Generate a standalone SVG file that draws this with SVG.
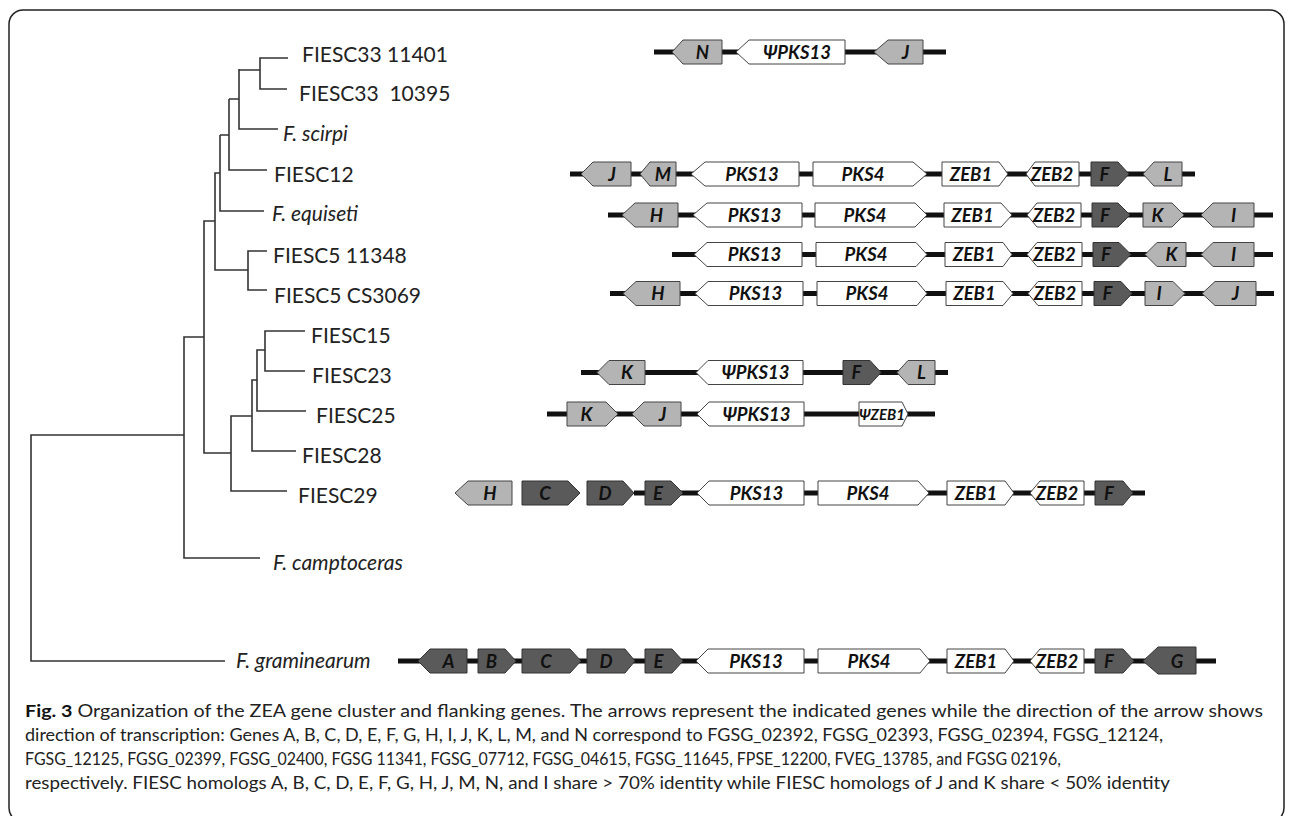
<svg xmlns="http://www.w3.org/2000/svg" width="1290" height="816" viewBox="0 0 1290 816">
<style>
.tx{font-family:Lato,"Liberation Sans","DejaVu Sans",sans-serif;font-size:21px;fill:#222}
.it{font-style:italic}
.bb{stroke:#111;stroke-width:5;fill:none}
.lt{fill:#b4b4b4;stroke:#444;stroke-width:1}
.dk{fill:#5a5a5a;stroke:#333;stroke-width:1}
.wt{fill:#fff;stroke:#444;stroke-width:1}
.gl{font-family:Lato,"DejaVu Sans","Liberation Sans",sans-serif;font-size:18.5px;font-weight:bold;font-style:italic;fill:#111;text-anchor:middle}
.tree{stroke:#333;stroke-width:1.6;fill:none}
.cap{font-family:Lato,"Liberation Sans",sans-serif;font-size:17px;fill:#222}
</style>
<rect x="9" y="10" width="1275" height="812" rx="14" fill="none" stroke="#222" stroke-width="1.5"/>

<g id="connectors" class="tree">
<path d="M288,58 H260 V89 H287 M260,70 H239 M278,129 H239 V69 M239,99 H229 M267,170 H229 V99 M229,135 H220 M264,211 H220 V135 M220,173 H215 V270 H248 M267,251 H248 V290 H267 M215,221 H204 V453 H231 M287,491 H231 V416 H252 M296,451 H252 V380 H257 M306,411 H257 V350 H265 M305,331 H265 V371 H305 M204,337 H184 V558 H260 M184,435 H31 V661 H225"/>
</g>

<g id="fiesc33-11401">
<text class="tx" x="302" y="62">FIESC33 11401</text>
<path class="bb" d="M654,52 H946"/>
<polygon class="lt" points="672,52 683,40 722,40 722,64 683,64"/><text class="gl" x="702.5" y="58.5">N</text>
<polygon class="wt" points="736,52 749,40 845,40 845,64 749,64"/><text class="gl" x="797" y="58.5">ΨPKS13</text>
<polygon class="lt" points="874,52 888,40 923,40 923,64 888,64"/><text class="gl" x="905.5" y="58.5">J</text>
</g>

<g id="fiesc33-10395">
<text class="tx" x="299" y="101" style="white-space:pre">FIESC33  10395</text>
</g>

<g id="f-scirpi">
<text class="tx it" x="283" y="141">F. scirpi</text>
</g>

<g id="fiesc12">
<text class="tx" x="274" y="182">FIESC12</text>
<path class="bb" d="M570,174 H1195"/>
<polygon class="lt" points="581,174 593,162 631,162 631,186 593,186"/><text class="gl" x="612" y="180.5">J</text>
<polygon class="lt" points="640,174 650,162 676,162 676,186 650,186"/><text class="gl" x="663" y="180.5">M</text>
<polygon class="wt" points="691,174 705,162 799,162 799,186 705,186"/><text class="gl" x="752" y="180.5">PKS13</text>
<polygon class="wt" points="813,162 913,162 927,174 913,186 813,186"/><text class="gl" x="863" y="180.5">PKS4</text>
<polygon class="wt" points="942,162 999,162 1008,174 999,186 942,186"/><text class="gl" x="971" y="180.5">ZEB1</text>
<polygon class="wt" points="1026,174 1035,162 1079,162 1079,186 1035,186"/><text class="gl" x="1052" y="180.5">ZEB2</text>
<polygon class="dk" points="1091,162 1118,162 1129,174 1118,186 1091,186"/><text class="gl" x="1104.5" y="180.5">F</text>
<polygon class="lt" points="1143,174 1154,162 1182,162 1182,186 1154,186"/><text class="gl" x="1168" y="180.5">L</text>
</g>

<g id="f-equiseti">
<text class="tx it" x="272" y="221">F. equiseti</text>
<path class="bb" d="M608,215 H1273"/>
<polygon class="lt" points="622,215 635,203 678,203 678,227 635,227"/><text class="gl" x="656.5" y="221.5">H</text>
<polygon class="wt" points="693,215 707,203 802,203 802,227 707,227"/><text class="gl" x="754.5" y="221.5">PKS13</text>
<polygon class="wt" points="815,203 915,203 927,215 915,227 815,227"/><text class="gl" x="865" y="221.5">PKS4</text>
<polygon class="wt" points="944,203 1001,203 1012,215 1001,227 944,227"/><text class="gl" x="972.5" y="221.5">ZEB1</text>
<polygon class="wt" points="1027,215 1037,203 1081,203 1081,227 1037,227"/><text class="gl" x="1054" y="221.5">ZEB2</text>
<polygon class="dk" points="1092,203 1118,203 1130,215 1118,227 1092,227"/><text class="gl" x="1105" y="221.5">F</text>
<polygon class="lt" points="1143,203 1172,203 1184,215 1172,227 1143,227"/><text class="gl" x="1157.5" y="221.5">K</text>
<polygon class="lt" points="1201,215 1213,203 1254,203 1254,227 1213,227"/><text class="gl" x="1233.5" y="221.5">I</text>
</g>

<g id="fiesc5-11348">
<text class="tx" x="273" y="263">FIESC5 11348</text>
<path class="bb" d="M672,254.5 H1273"/>
<polygon class="wt" points="694,254.5 707,242.5 802,242.5 802,266.5 707,266.5"/><text class="gl" x="754.5" y="261">PKS13</text>
<polygon class="wt" points="816,242.5 916,242.5 927,254.5 916,266.5 816,266.5"/><text class="gl" x="866" y="261">PKS4</text>
<polygon class="wt" points="945,242.5 1003,242.5 1012,254.5 1003,266.5 945,266.5"/><text class="gl" x="974" y="261">ZEB1</text>
<polygon class="wt" points="1027,254.5 1037,242.5 1082,242.5 1082,266.5 1037,266.5"/><text class="gl" x="1054.5" y="261">ZEB2</text>
<polygon class="dk" points="1093,242.5 1119,242.5 1131,254.5 1119,266.5 1093,266.5"/><text class="gl" x="1106" y="261">F</text>
<polygon class="lt" points="1145,254.5 1157,242.5 1186,242.5 1186,266.5 1157,266.5"/><text class="gl" x="1171.5" y="261">K</text>
<polygon class="lt" points="1201,254.5 1213,242.5 1254,242.5 1254,266.5 1213,266.5"/><text class="gl" x="1233.5" y="261">I</text>
</g>

<g id="fiesc5-cs3069">
<text class="tx" x="274" y="303">FIESC5 CS3069</text>
<path class="bb" d="M610,293.5 H1274"/>
<polygon class="lt" points="623,293.5 636,281.5 680,281.5 680,305.5 636,305.5"/><text class="gl" x="658" y="300">H</text>
<polygon class="wt" points="695,293.5 708,281.5 803,281.5 803,305.5 708,305.5"/><text class="gl" x="755.5" y="300">PKS13</text>
<polygon class="wt" points="817,281.5 917,281.5 927,293.5 917,305.5 817,305.5"/><text class="gl" x="867" y="300">PKS4</text>
<polygon class="wt" points="946,281.5 1003,281.5 1013,293.5 1003,305.5 946,305.5"/><text class="gl" x="974.5" y="300">ZEB1</text>
<polygon class="wt" points="1028,293.5 1038,281.5 1082,281.5 1082,305.5 1038,305.5"/><text class="gl" x="1055" y="300">ZEB2</text>
<polygon class="dk" points="1094,281.5 1121,281.5 1132,293.5 1121,305.5 1094,305.5"/><text class="gl" x="1107.5" y="300">F</text>
<polygon class="lt" points="1145,281.5 1173,281.5 1185,293.5 1173,305.5 1145,305.5"/><text class="gl" x="1159" y="300">I</text>
<polygon class="lt" points="1202,293.5 1215,281.5 1256,281.5 1256,305.5 1215,305.5"/><text class="gl" x="1235.5" y="300">J</text>
</g>

<g id="fiesc15">
<text class="tx" x="311" y="343">FIESC15</text>
</g>

<g id="fiesc23">
<text class="tx" x="312" y="383">FIESC23</text>
<path class="bb" d="M581,372.5 H948"/>
<polygon class="lt" points="597,372.5 609,360.5 645,360.5 645,384.5 609,384.5"/><text class="gl" x="627" y="379">K</text>
<polygon class="wt" points="696,372.5 708,360.5 803,360.5 803,384.5 708,384.5"/><text class="gl" x="755.5" y="379">ΨPKS13</text>
<polygon class="dk" points="843,360.5 870,360.5 881,372.5 870,384.5 843,384.5"/><text class="gl" x="856.5" y="379">F</text>
<polygon class="lt" points="897,372.5 908,360.5 935,360.5 935,384.5 908,384.5"/><text class="gl" x="921.5" y="379">L</text>
</g>

<g id="fiesc25">
<text class="tx" x="316" y="423">FIESC25</text>
<path class="bb" d="M547,414 H935"/>
<polygon class="lt" points="567,402 606,402 618,414 606,426 567,426"/><text class="gl" x="586.5" y="420.5">K</text>
<polygon class="lt" points="632,414 644,402 681,402 681,426 644,426"/><text class="gl" x="662.5" y="420.5">J</text>
<polygon class="wt" points="697,414 709,402 804,402 804,426 709,426"/><text class="gl" x="756.5" y="420.5">ΨPKS13</text>
<polygon class="wt" points="859,402 902,402 908,414 902,426 859,426"/><text class="gl" x="882" y="419.5" style="font-size:15px">ΨZEB1</text>
</g>

<g id="fiesc28">
<text class="tx" x="302" y="463">FIESC28</text>
</g>

<g id="fiesc29">
<text class="tx" x="298" y="503">FIESC29</text>
<path class="bb" d="M634,493 H1145"/>
<polygon class="lt" points="455,493 468,481 512,481 512,505 468,505"/><text class="gl" x="490" y="499.5">H</text>
<polygon class="dk" points="522,481 568,481 580,493 568,505 522,505"/><text class="gl" x="545" y="499.5">C</text>
<polygon class="dk" points="587,481 623,481 634,493 623,505 587,505"/><text class="gl" x="605" y="499.5">D</text>
<polygon class="dk" points="645,481 671,481 683,493 671,505 645,505"/><text class="gl" x="658" y="499.5">E</text>
<polygon class="wt" points="697,493 709,481 804,481 804,505 709,505"/><text class="gl" x="756.5" y="499.5">PKS13</text>
<polygon class="wt" points="818,481 918,481 929,493 918,505 818,505"/><text class="gl" x="868" y="499.5">PKS4</text>
<polygon class="wt" points="947,481 1005,481 1014,493 1005,505 947,505"/><text class="gl" x="976" y="499.5">ZEB1</text>
<polygon class="wt" points="1030,493 1040,481 1084,481 1084,505 1040,505"/><text class="gl" x="1057" y="499.5">ZEB2</text>
<polygon class="dk" points="1095,481 1123,481 1133,493 1123,505 1095,505"/><text class="gl" x="1109" y="499.5">F</text>
</g>

<g id="f-camptoceras">
<text class="tx it" x="273" y="570">F. camptoceras</text>
</g>

<g id="f-graminearum">
<text class="tx it" x="236" y="668">F. graminearum</text>
<path class="bb" d="M398,661 H1216"/>
<polygon class="dk" points="418,661 430,649 467,649 467,673 430,673"/><text class="gl" x="448.5" y="667.5">A</text>
<polygon class="dk" points="478,649 505,649 516,661 505,673 478,673"/><text class="gl" x="491.5" y="667.5">B</text>
<polygon class="dk" points="522,649 570,649 581,661 570,673 522,673"/><text class="gl" x="546" y="667.5">C</text>
<polygon class="dk" points="587,649 625,649 635,661 625,673 587,673"/><text class="gl" x="606" y="667.5">D</text>
<polygon class="dk" points="645,649 672,649 683,661 672,673 645,673"/><text class="gl" x="658.5" y="667.5">E</text>
<polygon class="wt" points="696,661 708,649 804,649 804,673 708,673"/><text class="gl" x="756" y="667.5">PKS13</text>
<polygon class="wt" points="818,649 920,649 930,661 920,673 818,673"/><text class="gl" x="869" y="667.5">PKS4</text>
<polygon class="wt" points="947,649 1005,649 1014,661 1005,673 947,673"/><text class="gl" x="976" y="667.5">ZEB1</text>
<polygon class="wt" points="1030,661 1040,649 1084,649 1084,673 1040,673"/><text class="gl" x="1057" y="667.5">ZEB2</text>
<polygon class="dk" points="1095,649 1123,649 1134,661 1123,673 1095,673"/><text class="gl" x="1109" y="667.5">F</text>
<polygon class="dk" points="1143,661 1158,647 1196,647 1196,674 1158,674"/><text class="gl" x="1177" y="667.5">G</text>
</g>

<g id="caption">
<text class="cap" x="25" y="717" textLength="1238" lengthAdjust="spacingAndGlyphs"><tspan font-weight="bold" fill="#111">Fig. 3</tspan> Organization of the ZEA gene cluster and flanking genes. The arrows represent the indicated genes while the direction of the arrow shows</text>
<text class="cap" x="25" y="741" textLength="1138" lengthAdjust="spacingAndGlyphs">direction of transcription: Genes A, B, C, D, E, F, G, H, I, J, K, L, M, and N correspond to FGSG_02392, FGSG_02393, FGSG_02394, FGSG_12124,</text>
<text class="cap" x="25" y="765" textLength="1036" lengthAdjust="spacingAndGlyphs">FGSG_12125, FGSG_02399, FGSG_02400, FGSG 11341, FGSG_07712, FGSG_04615, FGSG_11645, FPSE_12200, FVEG_13785, and FGSG 02196,</text>
<text class="cap" x="25" y="789" textLength="1145" lengthAdjust="spacingAndGlyphs">respectively. FIESC homologs A, B, C, D, E, F, G, H, J, M, N, and I share &gt; 70% identity while FIESC homologs of J and K share &lt; 50% identity</text>
</g>
</svg>
